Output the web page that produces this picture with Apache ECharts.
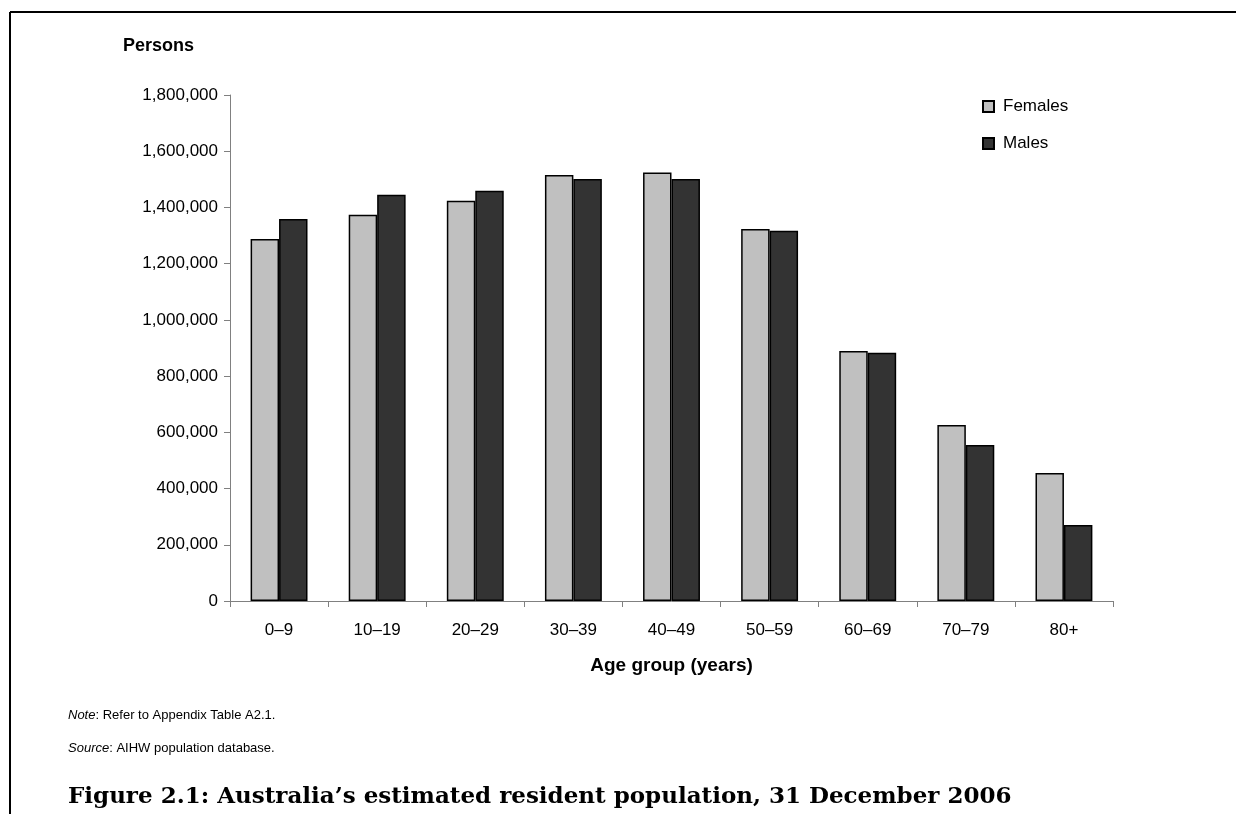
<!DOCTYPE html>
<html><head><meta charset="utf-8">
<script src="https://cdn.jsdelivr.net/npm/echarts@6/dist/echarts.min.js"></script>
<style>html,body{margin:0;padding:0;background:#fff}#c{width:1236px;height:814px}</style>
</head><body><div id="c"></div>
<script>
const categories = ['0–9','10–19','20–29','30–39','40–49','50–59','60–69','70–79','80+'];
const females = [1288000,1374000,1424000,1515000,1524000,1323000,889000,626000,455000];
const males   = [1359000,1445000,1459000,1501000,1501000,1317000,883000,555000,270000];
const yTicks = {min:0, max:1800000, interval:200000};

const chart = echarts.init(document.getElementById('c'));
const F = 'Liberation Sans, Arial, sans-serif';
chart.setOption({
  animation:false,
  backgroundColor:'#fff',
  grid:{left:230, right:123, top:95, bottom:213},
  legend:{
    orient:'vertical', left:977, top:93, itemGap:20, itemWidth:11, itemHeight:11, icon:'rect',
    textStyle:{fontFamily:F, fontSize:17, color:'#000', padding:[0,0,0,4]},
    data:['Females','Males']
  },
  xAxis:{
    type:'category', data:categories,
    axisLine:{lineStyle:{color:'#808080', width:1}},
    axisTick:{show:true, length:6, lineStyle:{color:'#808080'}},
    axisLabel:{fontFamily:F, fontSize:17, color:'#000', margin:21},
    name:'Age group (years)', nameLocation:'middle', nameGap:55,
    nameTextStyle:{fontFamily:F, fontSize:19, fontWeight:'bold', color:'#000'}
  },
  yAxis:{
    type:'value', min:yTicks.min, max:yTicks.max, interval:yTicks.interval,
    splitLine:{show:false},
    axisLine:{show:true, lineStyle:{color:'#808080', width:1}},
    axisTick:{show:true, length:6, lineStyle:{color:'#808080'}},
    axisLabel:{fontFamily:F, fontSize:17, color:'#000', margin:12,
      formatter:v=>v.toLocaleString('en-US')}
  },
  series:[
    {name:'Females', type:'bar', data:females, barGap:'0%', barCategoryGap:'42%',
     itemStyle:{color:'#c0c0c0', borderColor:'#000', borderWidth:1.5}},
    {name:'Males', type:'bar', data:males, barGap:'0%', barCategoryGap:'42%',
     itemStyle:{color:'#333333', borderColor:'#000', borderWidth:1.5}}
  ],
  graphic:[
    {type:'line', shape:{x1:10, y1:12, x2:1236, y2:12}, style:{stroke:'#000', lineWidth:2}},
    {type:'line', shape:{x1:10, y1:12, x2:10, y2:814}, style:{stroke:'#000', lineWidth:2}},
    {type:'text', left:123, top:37, style:{text:'Persons', fontFamily:F, fontSize:18, fontWeight:'bold', fill:'#000'}},
    {type:'text', left:68, top:709, style:{
      text:'{i|Note}: Refer to Appendix Table A2.1.',
      rich:{i:{fontStyle:'italic', fontFamily:F, fontSize:13, fill:'#000'}},
      fontFamily:F, fontSize:13, fill:'#000'}},
    {type:'text', left:68, top:742, style:{
      text:'{i|Source}: AIHW population database.',
      rich:{i:{fontStyle:'italic', fontFamily:F, fontSize:13, fill:'#000'}},
      fontFamily:F, fontSize:13, fill:'#000'}},
    {type:'text', left:68, top:786, style:{
      text:'Figure 2.1: Australia’s estimated resident population, 31 December 2006',
      fontFamily:'DejaVu Serif, Liberation Serif, serif', fontSize:23, fontWeight:'bold', fill:'#000'}}
  ]
});
</script></body></html>
